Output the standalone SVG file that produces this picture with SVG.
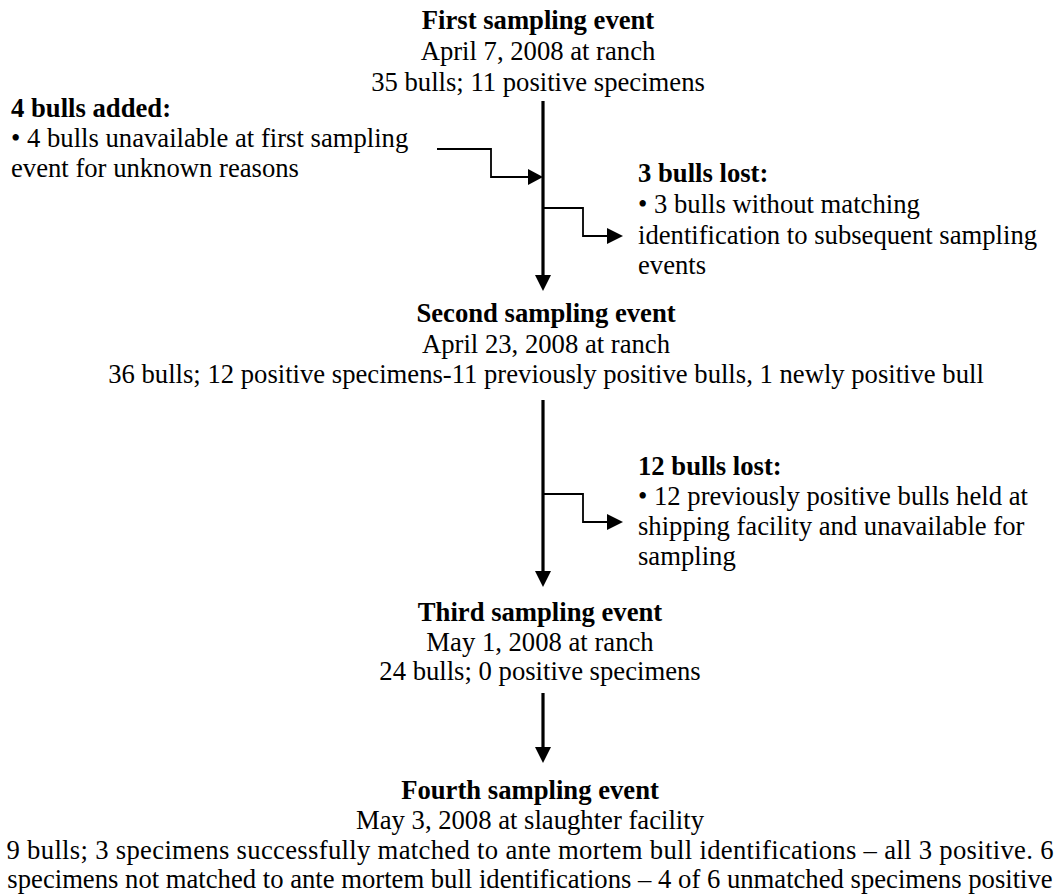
<svg xmlns="http://www.w3.org/2000/svg" width="1061" height="894" viewBox="0 0 1061 894">
<style>
text{font-family:"Liberation Serif","Times New Roman",serif;font-size:26.67px;fill:#000}
.b{font-weight:bold}
.c{text-anchor:middle}
.main{stroke:#000;stroke-width:3.2;fill:none}
.br{stroke:#000;stroke-width:1.8;fill:none}
.h{fill:#000}
</style>
<rect width="1061" height="894" fill="#fff"/>
<g id="connectors">
<line class="main" x1="543" y1="101" x2="543" y2="276"/>
<polygon class="h" points="535,275 551,275 543,291"/>
<path class="br" d="M437,149 H491 V177 H529"/>
<polygon class="h" points="528,169 528,185 543,177"/>
<path class="br" d="M543,208 H583 V236 H608"/>
<polygon class="h" points="607,228 607,244 623,236"/>
<line class="main" x1="543" y1="400" x2="543" y2="572"/>
<polygon class="h" points="535,571 551,571 543,587"/>
<path class="br" d="M543,494 H583 V522 H608"/>
<polygon class="h" points="607,514 607,530 623,522"/>
<line class="main" x1="543" y1="693" x2="543" y2="748"/>
<polygon class="h" points="535,747 551,747 543,763"/>
</g>
<g id="first">
<text class="b c" x="538" y="29">First sampling event</text>
<text class="c" x="538" y="60">April 7, 2008 at ranch</text>
<text class="c" x="538" y="91">35 bulls; 11 positive specimens</text>
</g>
<g id="added">
<text class="b" x="11" y="117">4 bulls added:</text>
<text x="11" y="147">• 4 bulls unavailable at first sampling</text>
<text x="11" y="177">event for unknown reasons</text>
</g>
<g id="lost3">
<text class="b" x="638" y="182">3 bulls lost:</text>
<text x="638" y="213">• 3 bulls without matching</text>
<text x="638" y="244">identification to subsequent sampling</text>
<text x="638" y="274">events</text>
</g>
<g id="second">
<text class="b c" x="546" y="322">Second sampling event</text>
<text class="c" x="546" y="353">April 23, 2008 at ranch</text>
<text class="c" x="546" y="383">36 bulls; 12 positive specimens-11 previously positive bulls, 1 newly positive bull</text>
</g>
<g id="lost12">
<text class="b" x="638" y="475">12 bulls lost:</text>
<text x="638" y="505">• 12 previously positive bulls held at</text>
<text x="638" y="535">shipping facility and unavailable for</text>
<text x="638" y="565">sampling</text>
</g>
<g id="third">
<text class="b c" x="540" y="621">Third sampling event</text>
<text class="c" x="540" y="651">May 1, 2008 at ranch</text>
<text class="c" x="540" y="680">24 bulls; 0 positive specimens</text>
</g>
<g id="fourth">
<text class="b c" x="530" y="799">Fourth sampling event</text>
<text class="c" x="530" y="829">May 3, 2008 at slaughter facility</text>
<text class="c" x="530" y="859" textLength="1047" lengthAdjust="spacing">9 bulls; 3 specimens successfully matched to ante mortem bull identifications – all 3 positive. 6</text>
<text class="c" x="530" y="888">specimens not matched to ante mortem bull identifications – 4 of 6 unmatched specimens positive</text>
</g>
</svg>
